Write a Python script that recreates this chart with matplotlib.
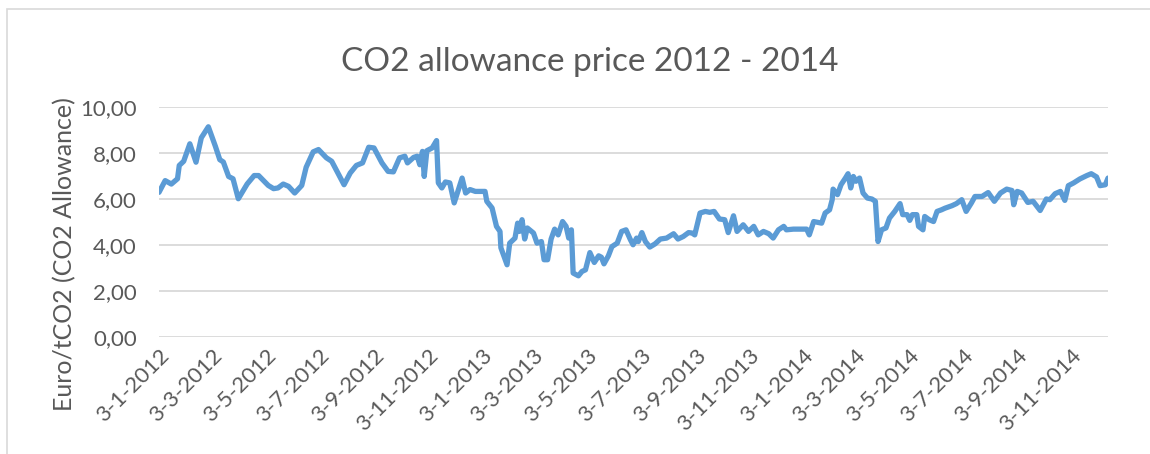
import matplotlib.pyplot as plt
import matplotlib.dates as mdates
from matplotlib.ticker import FuncFormatter
from matplotlib.patches import Rectangle
import pandas as pd

# data (date, euro per tCO2)
dates = [
    "2012-01-03", "2012-01-10", "2012-01-17", "2012-01-24", "2012-01-26", "2012-01-31",
    "2012-02-07", "2012-02-14", "2012-02-20", "2012-02-28", "2012-03-07", "2012-03-12",
    "2012-03-16", "2012-03-22", "2012-03-27", "2012-04-02", "2012-04-12", "2012-04-20",
    "2012-04-25", "2012-05-06", "2012-05-12", "2012-05-17", "2012-05-23", "2012-05-29",
    "2012-06-05", "2012-06-13", "2012-06-18", "2012-06-26", "2012-07-02", "2012-07-11",
    "2012-07-17", "2012-07-23", "2012-07-31", "2012-08-07", "2012-08-14", "2012-08-21",
    "2012-08-28", "2012-09-03", "2012-09-12", "2012-09-19", "2012-09-25", "2012-10-02",
    "2012-10-08", "2012-10-11", "2012-10-18", "2012-10-22", "2012-10-25", "2012-10-28",
    "2012-10-30", "2012-11-02", "2012-11-08", "2012-11-13", "2012-11-15", "2012-11-19",
    "2012-11-23", "2012-11-28", "2012-12-03", "2012-12-12", "2012-12-16", "2012-12-21",
    "2012-12-27", "2013-01-07", "2013-01-09", "2013-01-15", "2013-01-20", "2013-01-24",
    "2013-01-25", "2013-02-01", "2013-02-04", "2013-02-10", "2013-02-13", "2013-02-15",
    "2013-02-18", "2013-02-21", "2013-02-24", "2013-03-03", "2013-03-07", "2013-03-12",
    "2013-03-15", "2013-03-19", "2013-03-23", "2013-03-27", "2013-03-31", "2013-04-05",
    "2013-04-09", "2013-04-12", "2013-04-15", "2013-04-17", "2013-04-23", "2013-04-27",
    "2013-05-01", "2013-05-06", "2013-05-11", "2013-05-16", "2013-05-19", "2013-05-22",
    "2013-05-27", "2013-05-31", "2013-06-06", "2013-06-11", "2013-06-16", "2013-06-21",
    "2013-06-24", "2013-06-28", "2013-06-30", "2013-07-04", "2013-07-08", "2013-07-13",
    "2013-07-19", "2013-07-25", "2013-08-01", "2013-08-09", "2013-08-14", "2013-08-20",
    "2013-08-26", "2013-08-30", "2013-09-02", "2013-09-08", "2013-09-14", "2013-09-19",
    "2013-09-24", "2013-09-30", "2013-10-06", "2013-10-10", "2013-10-16", "2013-10-20",
    "2013-10-27", "2013-11-02", "2013-11-08", "2013-11-13", "2013-11-19", "2013-11-25",
    "2013-11-30", "2013-12-06", "2013-12-12", "2013-12-15", "2013-12-23", "2014-01-07",
    "2014-01-10", "2014-01-15", "2014-01-20", "2014-01-24", "2014-01-28", "2014-02-02",
    "2014-02-05", "2014-02-06", "2014-02-11", "2014-02-15", "2014-02-20", "2014-02-23",
    "2014-02-26", "2014-03-01", "2014-03-04", "2014-03-08", "2014-03-12", "2014-03-17",
    "2014-03-22", "2014-03-26", "2014-03-29", "2014-04-02", "2014-04-07", "2014-04-11",
    "2014-04-17", "2014-04-23", "2014-04-26", "2014-05-01", "2014-05-04", "2014-05-07",
    "2014-05-12", "2014-05-14", "2014-05-19", "2014-05-21", "2014-05-26", "2014-05-31",
    "2014-06-04", "2014-06-09", "2014-06-13", "2014-06-21", "2014-06-26", "2014-07-02",
    "2014-07-07", "2014-07-13", "2014-07-17", "2014-07-25", "2014-08-01", "2014-08-08",
    "2014-08-15", "2014-08-22", "2014-08-28", "2014-08-30", "2014-09-03", "2014-09-08",
    "2014-09-15", "2014-09-21", "2014-09-29", "2014-10-06", "2014-10-10", "2014-10-16",
    "2014-10-22", "2014-10-27", "2014-10-31", "2014-11-06", "2014-11-13", "2014-11-21",
    "2014-11-26", "2014-12-02", "2014-12-06", "2014-12-12", "2014-12-15",
]
prices = [
    6.29, 6.80, 6.65, 6.88, 7.46, 7.64,
    8.40, 7.60, 8.66, 9.14, 8.29, 7.71,
    7.61, 6.98, 6.88, 6.01, 6.65, 7.02,
    7.02, 6.59, 6.45, 6.48, 6.65, 6.55,
    6.26, 6.59, 7.38, 8.05, 8.15, 7.79,
    7.64, 7.20, 6.62, 7.13, 7.46, 7.57,
    8.25, 8.22, 7.57, 7.20, 7.18, 7.79,
    7.86, 7.57, 7.81, 7.86, 7.49, 8.07,
    6.98, 8.10, 8.22, 8.54, 6.70, 6.48,
    6.74, 6.70, 5.83, 6.91, 6.26, 6.41,
    6.33, 6.33, 5.90, 5.61, 4.81, 4.59,
    3.88, 3.14, 4.08, 4.30, 4.95, 4.59,
    5.10, 4.26, 4.74, 4.52, 4.08, 4.15,
    3.36, 3.36, 4.26, 4.69, 4.44, 5.02,
    4.81, 4.30, 4.66, 2.78, 2.66, 2.85,
    2.92, 3.67, 3.24, 3.53, 3.47, 3.18,
    3.53, 3.93, 4.08, 4.59, 4.66, 4.23,
    4.01, 4.30, 4.15, 4.54, 4.15, 3.91,
    4.05, 4.26, 4.30, 4.49, 4.26, 4.37,
    4.54, 4.52, 4.44, 5.39, 5.46, 5.42,
    5.46, 5.13, 5.10, 4.54, 5.27, 4.59,
    4.88, 4.59, 4.81, 4.44, 4.59, 4.49,
    4.30, 4.66, 4.81, 4.66, 4.69, 4.69,
    4.44, 5.02, 4.98, 4.95, 5.39, 5.53,
    5.97, 6.43, 6.19, 6.62, 6.91, 7.10,
    6.48, 6.98, 6.77, 6.91, 6.26, 6.04,
    6.00, 5.90, 4.15, 4.66, 4.74, 5.17,
    5.46, 5.80, 5.32, 5.32, 5.07, 5.32,
    5.32, 4.81, 4.66, 5.24, 5.10, 5.02,
    5.46, 5.53, 5.60, 5.71, 5.80, 5.97,
    5.46, 5.83, 6.11, 6.11, 6.28, 5.90,
    6.26, 6.43, 6.37, 5.75, 6.33, 6.26,
    5.85, 5.90, 5.50, 6.00, 5.97, 6.23,
    6.33, 5.94, 6.58, 6.70, 6.87, 7.02,
    7.10, 6.96, 6.58, 6.62, 6.91,
]
title = "CO2 allowance price 2012 - 2014"
y_label = "Euro/tCO2 (CO2 Allowance)"
y_ticks = [0, 2, 4, 6, 8, 10]

plt.rcParams['font.family'] = ['Lato', 'DejaVu Sans']
txt_col = '#595959'
grid_col = '#D9D9D9'

x = pd.to_datetime(dates)

fig = plt.figure(figsize=(11.5, 4.54), dpi=100)
ax = fig.add_axes([159 / 1150, 1 - 337 / 454, (1108 - 159) / 1150, 230 / 454])

# rand om de grafiek
fig.patches.append(Rectangle((7 / 1150, -0.1), 1.2, 1 - 9 / 454 + 0.1, transform=fig.transFigure,
                             fill=False, edgecolor=grid_col, lw=1.2))

ax.plot(x, prices, color='#5B9BD5', lw=3.8, solid_joinstyle='round', solid_capstyle='round', zorder=3)

ax.set_ylim(0, 10)
ax.set_yticks(y_ticks)
ax.yaxis.set_major_formatter(FuncFormatter(lambda v, p: f"{v:.2f}".replace('.', ',')))
ax.grid(axis='y', color=grid_col, lw=1.3)
ax.set_axisbelow(True)

ax.set_xlim(pd.Timestamp("2012-01-03"), pd.Timestamp("2014-12-15"))
ax.xaxis.set_major_locator(mdates.MonthLocator(bymonth=[1, 3, 5, 7, 9, 11], bymonthday=3))
ax.xaxis.set_major_formatter(FuncFormatter(lambda v, p: "{0.day}-{0.month}-{0.year}".format(mdates.num2date(v))))

for s in ax.spines.values():
    s.set_visible(False)
ax.tick_params(axis='both', length=0, colors=txt_col, labelsize=16)
ax.tick_params(axis='y', pad=16)
ax.tick_params(axis='x', pad=6)
for lab in ax.get_xticklabels():
    lab.set_rotation(45)
    lab.set_ha('right')
    lab.set_va('top')
    lab.set_rotation_mode('anchor')

fig.text(590 / 1150, 1 - 62 / 454, title, ha='center', va='center', fontsize=24, color=txt_col)
fig.text(65 / 1150, 1 - 254 / 454, y_label, ha='center', va='center', rotation=90, fontsize=18, color=txt_col)

plt.savefig('out.png', dpi=100)
